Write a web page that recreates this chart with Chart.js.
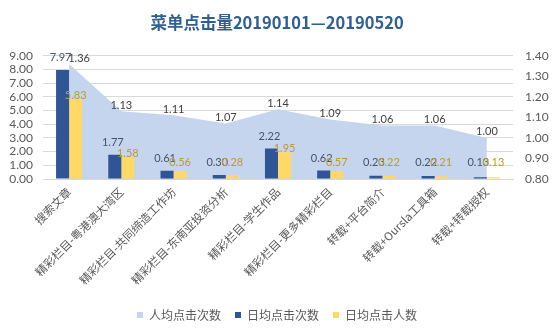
<!DOCTYPE html>
<html>
<head>
<meta charset="utf-8">
<script src="https://cdn.jsdelivr.net/npm/chart.js@4.4.0/dist/chart.umd.min.js"></script>
<style>
html,body{margin:0;padding:0;background:#fff;}
#wrap{width:554px;height:335px;position:relative;}
</style>
</head>
<body>
<div id="wrap"><canvas id="c" width="554" height="335"></canvas></div>
<script>
const categories = ["搜索文章","精彩栏目-粤港澳大湾区","精彩栏目-共同缔造工作坊","精彩栏目-东南亚投资分析","精彩栏目-学生作品","精彩栏目-更多精彩栏目","转载+平台简介","转载+Oursla工具箱","转载+转载授权"];
const avgClicksPerUser = [1.36,1.13,1.11,1.07,1.14,1.09,1.06,1.06,1.00];
const dailyClicks = [7.97,1.77,0.61,0.30,2.22,0.62,0.23,0.22,0.13];
const dailyUsers = [5.83,1.58,0.56,0.28,1.95,0.57,0.22,0.21,0.13];
const seriesNames = ["人均点击次数","日均点击次数","日均点击人数"];
const titleText = "菜单点击量20190101—20190520";

const numFont = "Lato, 'Liberation Sans', sans-serif";
const cjkFont = "'Noto Sans CJK SC', sans-serif";

const labelPlugin = {
  id: 'valueLabels',
  afterDatasetsDraw(chart) {
    const ctx = chart.ctx;
    ctx.save();
    ctx.font = "11px " + numFont;
    ctx.textAlign = 'center';
    ctx.textBaseline = 'middle';
    chart.data.datasets.forEach((ds, di) => {
      const meta = chart.getDatasetMeta(di);
      meta.data.forEach((el, i) => {
        const v = ds.data[i].toFixed(2);
        if (di === 0) {
          ctx.fillStyle = '#404040';
          ctx.fillText(v, el.x + (i === 0 ? 10 : 0), el.y - 6);
        } else if (di === 1) {
          ctx.fillStyle = '#44546a';
          ctx.fillText(v, el.x - 2, Math.min(el.y - 12, el.base - 16));
        } else {
          ctx.fillStyle = '#bf9a2a';
          ctx.fillText(v, el.x, Math.min(el.y - 4, el.base - 16));
        }
      });
    });
    ctx.restore();
  }
};

new Chart(document.getElementById('c'), {
  data: {
    labels: categories,
    datasets: [
      {
        type: 'line',
        label: seriesNames[0],
        data: avgClicksPerUser,
        yAxisID: 'y2',
        fill: 'start',
        backgroundColor: '#c6d5ee',
        borderColor: '#c6d5ee',
        borderWidth: 0,
        pointRadius: 0,
        tension: 0,
        order: 1
      },
      {
        type: 'bar',
        label: seriesNames[1],
        data: dailyClicks,
        yAxisID: 'y',
        backgroundColor: '#2f5597',
        categoryPercentage: 0.5,
        barPercentage: 1.0,
        order: 0
      },
      {
        type: 'bar',
        label: seriesNames[2],
        data: dailyUsers,
        yAxisID: 'y',
        backgroundColor: '#ffd966',
        categoryPercentage: 0.5,
        barPercentage: 1.0,
        order: 0
      }
    ]
  },
  options: {
    responsive: false,
    animation: false,
    layout: { padding: { top: 0, bottom: 4, left: 0, right: 0 } },
    plugins: {
      title: {
        display: true,
        text: titleText,
        color: '#2f5f93',
        font: { family: cjkFont, size: 16.5, weight: 'bold' },
        padding: { top: 13, bottom: 23 }
      },
      legend: {
        position: 'bottom',
        labels: {
          boxWidth: 6,
          boxHeight: 6,
          color: '#595959',
          font: { family: cjkFont, size: 12 },
          padding: 14,
          sort: (a, b) => a.datasetIndex - b.datasetIndex
        }
      },
      tooltip: { enabled: false }
    },
    scales: {
      x: {
        offset: true,
        grid: { display: false, drawTicks: false },
        border: { display: true, color: '#d9d9d9' },
        ticks: {
          color: '#595959',
          font: { family: cjkFont, size: 11.5 },
          maxRotation: 45,
          minRotation: 45,
          autoSkip: false,
          padding: 6
        },
        afterFit(s) { s.height = 116; }
      },
      y: {
        position: 'left',
        min: 0,
        max: 9,
        grid: { color: '#d9d9d9', drawTicks: false },
        border: { display: false },
        ticks: {
          stepSize: 1,
          autoSkip: false,
          color: '#595959',
          font: { family: numFont, size: 12, lineHeight: 1 },
          padding: 10,
          callback: v => Number(v).toFixed(2)
        },
        afterFit(s) { s.width = 43; }
      },
      y2: {
        position: 'right',
        min: 0.8,
        max: 1.4,
        grid: { display: false, drawTicks: false },
        border: { display: false },
        ticks: {
          stepSize: 0.1,
          autoSkip: false,
          color: '#595959',
          font: { family: numFont, size: 12, lineHeight: 1 },
          padding: 12,
          callback: v => Number(v).toFixed(2)
        },
        afterFit(s) { s.width = 41; }
      }
    }
  },
  plugins: [labelPlugin]
});
</script>
</body>
</html>
